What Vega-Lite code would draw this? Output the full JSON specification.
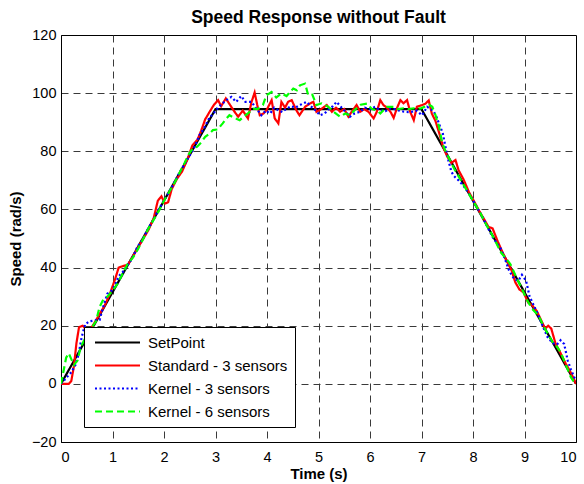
{
  "$schema": "https://vega.github.io/schema/vega-lite/v6.json",
  "width": 515,
  "height": 407,
  "autosize": {"type": "none"},
  "padding": {"left": 61, "top": 35, "right": 8, "bottom": 42},
  "background": "white",
  "title": {
    "text": "Speed Response without Fault",
    "font": "Liberation Sans",
    "fontSize": 17.5,
    "fontWeight": "bold",
    "color": "black",
    "frame": "group",
    "anchor": "middle",
    "offset": 1
  },
  "data": {
    "values": [
      {"s": "SetPoint", "t": 0, "v": 0},
      {"s": "SetPoint", "t": 3, "v": 94.5},
      {"s": "SetPoint", "t": 7, "v": 94.5},
      {"s": "SetPoint", "t": 10, "v": 0},

      {"s": "Standard - 3 sensors", "t": 0, "v": 0},
      {"s": "Standard - 3 sensors", "t": 0.15, "v": 0},
      {"s": "Standard - 3 sensors", "t": 0.2, "v": 1},
      {"s": "Standard - 3 sensors", "t": 0.25, "v": 6},
      {"s": "Standard - 3 sensors", "t": 0.3, "v": 14},
      {"s": "Standard - 3 sensors", "t": 0.35, "v": 19.5},
      {"s": "Standard - 3 sensors", "t": 0.42, "v": 20},
      {"s": "Standard - 3 sensors", "t": 0.5, "v": 18.5},
      {"s": "Standard - 3 sensors", "t": 0.58, "v": 19},
      {"s": "Standard - 3 sensors", "t": 0.65, "v": 21},
      {"s": "Standard - 3 sensors", "t": 0.75, "v": 24},
      {"s": "Standard - 3 sensors", "t": 0.85, "v": 27},
      {"s": "Standard - 3 sensors", "t": 0.95, "v": 31},
      {"s": "Standard - 3 sensors", "t": 1.05, "v": 36},
      {"s": "Standard - 3 sensors", "t": 1.12, "v": 40},
      {"s": "Standard - 3 sensors", "t": 1.2, "v": 40.5},
      {"s": "Standard - 3 sensors", "t": 1.3, "v": 41},
      {"s": "Standard - 3 sensors", "t": 1.4, "v": 44},
      {"s": "Standard - 3 sensors", "t": 1.5, "v": 47},
      {"s": "Standard - 3 sensors", "t": 1.6, "v": 50},
      {"s": "Standard - 3 sensors", "t": 1.7, "v": 53},
      {"s": "Standard - 3 sensors", "t": 1.8, "v": 57},
      {"s": "Standard - 3 sensors", "t": 1.88, "v": 63},
      {"s": "Standard - 3 sensors", "t": 1.95, "v": 64.5},
      {"s": "Standard - 3 sensors", "t": 2.02, "v": 62},
      {"s": "Standard - 3 sensors", "t": 2.08, "v": 62.5},
      {"s": "Standard - 3 sensors", "t": 2.15, "v": 67},
      {"s": "Standard - 3 sensors", "t": 2.25, "v": 70.5},
      {"s": "Standard - 3 sensors", "t": 2.35, "v": 73},
      {"s": "Standard - 3 sensors", "t": 2.45, "v": 77},
      {"s": "Standard - 3 sensors", "t": 2.55, "v": 82},
      {"s": "Standard - 3 sensors", "t": 2.65, "v": 84},
      {"s": "Standard - 3 sensors", "t": 2.72, "v": 87},
      {"s": "Standard - 3 sensors", "t": 2.8, "v": 91},
      {"s": "Standard - 3 sensors", "t": 2.9, "v": 94},
      {"s": "Standard - 3 sensors", "t": 2.97, "v": 96},
      {"s": "Standard - 3 sensors", "t": 3.05, "v": 97.6},
      {"s": "Standard - 3 sensors", "t": 3.11, "v": 95.5},
      {"s": "Standard - 3 sensors", "t": 3.2, "v": 98.2},
      {"s": "Standard - 3 sensors", "t": 3.28, "v": 96},
      {"s": "Standard - 3 sensors", "t": 3.37, "v": 93.6},
      {"s": "Standard - 3 sensors", "t": 3.44, "v": 91.9},
      {"s": "Standard - 3 sensors", "t": 3.53, "v": 94},
      {"s": "Standard - 3 sensors", "t": 3.63, "v": 91.3},
      {"s": "Standard - 3 sensors", "t": 3.7, "v": 97},
      {"s": "Standard - 3 sensors", "t": 3.76, "v": 100.2},
      {"s": "Standard - 3 sensors", "t": 3.81, "v": 96},
      {"s": "Standard - 3 sensors", "t": 3.86, "v": 92.4},
      {"s": "Standard - 3 sensors", "t": 3.93, "v": 93},
      {"s": "Standard - 3 sensors", "t": 3.99, "v": 94.1},
      {"s": "Standard - 3 sensors", "t": 4.09, "v": 97.6},
      {"s": "Standard - 3 sensors", "t": 4.15, "v": 91.3},
      {"s": "Standard - 3 sensors", "t": 4.22, "v": 89.6},
      {"s": "Standard - 3 sensors", "t": 4.28, "v": 97},
      {"s": "Standard - 3 sensors", "t": 4.35, "v": 95},
      {"s": "Standard - 3 sensors", "t": 4.41, "v": 97},
      {"s": "Standard - 3 sensors", "t": 4.48, "v": 97.6},
      {"s": "Standard - 3 sensors", "t": 4.57, "v": 94.1},
      {"s": "Standard - 3 sensors", "t": 4.63, "v": 92.4},
      {"s": "Standard - 3 sensors", "t": 4.74, "v": 95.3},
      {"s": "Standard - 3 sensors", "t": 4.83, "v": 96.4},
      {"s": "Standard - 3 sensors", "t": 4.9, "v": 97},
      {"s": "Standard - 3 sensors", "t": 4.96, "v": 93.6},
      {"s": "Standard - 3 sensors", "t": 5.05, "v": 94.5},
      {"s": "Standard - 3 sensors", "t": 5.16, "v": 95.9},
      {"s": "Standard - 3 sensors", "t": 5.26, "v": 93.6},
      {"s": "Standard - 3 sensors", "t": 5.34, "v": 95},
      {"s": "Standard - 3 sensors", "t": 5.42, "v": 93.6},
      {"s": "Standard - 3 sensors", "t": 5.5, "v": 94.5},
      {"s": "Standard - 3 sensors", "t": 5.58, "v": 91.9},
      {"s": "Standard - 3 sensors", "t": 5.66, "v": 94},
      {"s": "Standard - 3 sensors", "t": 5.74, "v": 95.9},
      {"s": "Standard - 3 sensors", "t": 5.81, "v": 93.6},
      {"s": "Standard - 3 sensors", "t": 5.89, "v": 94.5},
      {"s": "Standard - 3 sensors", "t": 5.97, "v": 93.6},
      {"s": "Standard - 3 sensors", "t": 6.07, "v": 91.3},
      {"s": "Standard - 3 sensors", "t": 6.13, "v": 93.5},
      {"s": "Standard - 3 sensors", "t": 6.2, "v": 97.6},
      {"s": "Standard - 3 sensors", "t": 6.26, "v": 95.9},
      {"s": "Standard - 3 sensors", "t": 6.33, "v": 95},
      {"s": "Standard - 3 sensors", "t": 6.4, "v": 93.5},
      {"s": "Standard - 3 sensors", "t": 6.46, "v": 91.5},
      {"s": "Standard - 3 sensors", "t": 6.52, "v": 94.7},
      {"s": "Standard - 3 sensors", "t": 6.59, "v": 97.6},
      {"s": "Standard - 3 sensors", "t": 6.65, "v": 96.5},
      {"s": "Standard - 3 sensors", "t": 6.72, "v": 97.6},
      {"s": "Standard - 3 sensors", "t": 6.78, "v": 93.6},
      {"s": "Standard - 3 sensors", "t": 6.85, "v": 90.7},
      {"s": "Standard - 3 sensors", "t": 6.91, "v": 95.3},
      {"s": "Standard - 3 sensors", "t": 7.01, "v": 95.9},
      {"s": "Standard - 3 sensors", "t": 7.08, "v": 96.4},
      {"s": "Standard - 3 sensors", "t": 7.14, "v": 97.5},
      {"s": "Standard - 3 sensors", "t": 7.2, "v": 93},
      {"s": "Standard - 3 sensors", "t": 7.27, "v": 90.5},
      {"s": "Standard - 3 sensors", "t": 7.34, "v": 86.5},
      {"s": "Standard - 3 sensors", "t": 7.42, "v": 81.5},
      {"s": "Standard - 3 sensors", "t": 7.5, "v": 78.2},
      {"s": "Standard - 3 sensors", "t": 7.58, "v": 76},
      {"s": "Standard - 3 sensors", "t": 7.66, "v": 77},
      {"s": "Standard - 3 sensors", "t": 7.72, "v": 73.5},
      {"s": "Standard - 3 sensors", "t": 7.82, "v": 70.2},
      {"s": "Standard - 3 sensors", "t": 7.92, "v": 66},
      {"s": "Standard - 3 sensors", "t": 8.02, "v": 62.8},
      {"s": "Standard - 3 sensors", "t": 8.12, "v": 59.5},
      {"s": "Standard - 3 sensors", "t": 8.22, "v": 56.5},
      {"s": "Standard - 3 sensors", "t": 8.3, "v": 54},
      {"s": "Standard - 3 sensors", "t": 8.38, "v": 53.5},
      {"s": "Standard - 3 sensors", "t": 8.48, "v": 49},
      {"s": "Standard - 3 sensors", "t": 8.58, "v": 45},
      {"s": "Standard - 3 sensors", "t": 8.68, "v": 41.5},
      {"s": "Standard - 3 sensors", "t": 8.75, "v": 39},
      {"s": "Standard - 3 sensors", "t": 8.82, "v": 35},
      {"s": "Standard - 3 sensors", "t": 8.9, "v": 32.5},
      {"s": "Standard - 3 sensors", "t": 8.98, "v": 31.5},
      {"s": "Standard - 3 sensors", "t": 9.07, "v": 28},
      {"s": "Standard - 3 sensors", "t": 9.15, "v": 27},
      {"s": "Standard - 3 sensors", "t": 9.24, "v": 25},
      {"s": "Standard - 3 sensors", "t": 9.32, "v": 22},
      {"s": "Standard - 3 sensors", "t": 9.4, "v": 19},
      {"s": "Standard - 3 sensors", "t": 9.46, "v": 20},
      {"s": "Standard - 3 sensors", "t": 9.52, "v": 19},
      {"s": "Standard - 3 sensors", "t": 9.6, "v": 14},
      {"s": "Standard - 3 sensors", "t": 9.71, "v": 10.2},
      {"s": "Standard - 3 sensors", "t": 9.8, "v": 7},
      {"s": "Standard - 3 sensors", "t": 9.88, "v": 4.5},
      {"s": "Standard - 3 sensors", "t": 9.95, "v": 2},
      {"s": "Standard - 3 sensors", "t": 10, "v": 0},

      {"s": "Kernel - 3 sensors", "t": 0, "v": 0},
      {"s": "Kernel - 3 sensors", "t": 0.1, "v": 2},
      {"s": "Kernel - 3 sensors", "t": 0.2, "v": 4},
      {"s": "Kernel - 3 sensors", "t": 0.28, "v": 6.5},
      {"s": "Kernel - 3 sensors", "t": 0.34, "v": 10},
      {"s": "Kernel - 3 sensors", "t": 0.4, "v": 16},
      {"s": "Kernel - 3 sensors", "t": 0.47, "v": 20.5},
      {"s": "Kernel - 3 sensors", "t": 0.55, "v": 21.5},
      {"s": "Kernel - 3 sensors", "t": 0.65, "v": 21.8},
      {"s": "Kernel - 3 sensors", "t": 0.75, "v": 22},
      {"s": "Kernel - 3 sensors", "t": 0.82, "v": 26.5},
      {"s": "Kernel - 3 sensors", "t": 0.9, "v": 31},
      {"s": "Kernel - 3 sensors", "t": 0.98, "v": 32},
      {"s": "Kernel - 3 sensors", "t": 1.05, "v": 34},
      {"s": "Kernel - 3 sensors", "t": 1.12, "v": 37},
      {"s": "Kernel - 3 sensors", "t": 1.2, "v": 38.5},
      {"s": "Kernel - 3 sensors", "t": 1.3, "v": 41},
      {"s": "Kernel - 3 sensors", "t": 1.38, "v": 43},
      {"s": "Kernel - 3 sensors", "t": 1.48, "v": 47},
      {"s": "Kernel - 3 sensors", "t": 1.58, "v": 49.5},
      {"s": "Kernel - 3 sensors", "t": 1.68, "v": 53},
      {"s": "Kernel - 3 sensors", "t": 1.78, "v": 56},
      {"s": "Kernel - 3 sensors", "t": 1.88, "v": 59.5},
      {"s": "Kernel - 3 sensors", "t": 1.98, "v": 62.5},
      {"s": "Kernel - 3 sensors", "t": 2.08, "v": 65.5},
      {"s": "Kernel - 3 sensors", "t": 2.18, "v": 68.5},
      {"s": "Kernel - 3 sensors", "t": 2.28, "v": 72},
      {"s": "Kernel - 3 sensors", "t": 2.38, "v": 75},
      {"s": "Kernel - 3 sensors", "t": 2.48, "v": 78},
      {"s": "Kernel - 3 sensors", "t": 2.58, "v": 81},
      {"s": "Kernel - 3 sensors", "t": 2.69, "v": 85.6},
      {"s": "Kernel - 3 sensors", "t": 2.78, "v": 88},
      {"s": "Kernel - 3 sensors", "t": 2.88, "v": 91.5},
      {"s": "Kernel - 3 sensors", "t": 2.96, "v": 93},
      {"s": "Kernel - 3 sensors", "t": 3.05, "v": 95},
      {"s": "Kernel - 3 sensors", "t": 3.14, "v": 96.5},
      {"s": "Kernel - 3 sensors", "t": 3.21, "v": 97.6},
      {"s": "Kernel - 3 sensors", "t": 3.31, "v": 98.7},
      {"s": "Kernel - 3 sensors", "t": 3.4, "v": 97},
      {"s": "Kernel - 3 sensors", "t": 3.5, "v": 99},
      {"s": "Kernel - 3 sensors", "t": 3.58, "v": 97},
      {"s": "Kernel - 3 sensors", "t": 3.7, "v": 97},
      {"s": "Kernel - 3 sensors", "t": 3.78, "v": 95},
      {"s": "Kernel - 3 sensors", "t": 3.89, "v": 92.4},
      {"s": "Kernel - 3 sensors", "t": 3.98, "v": 94},
      {"s": "Kernel - 3 sensors", "t": 4.06, "v": 93},
      {"s": "Kernel - 3 sensors", "t": 4.14, "v": 95},
      {"s": "Kernel - 3 sensors", "t": 4.22, "v": 94.1},
      {"s": "Kernel - 3 sensors", "t": 4.3, "v": 93.5},
      {"s": "Kernel - 3 sensors", "t": 4.38, "v": 94.7},
      {"s": "Kernel - 3 sensors", "t": 4.47, "v": 95.5},
      {"s": "Kernel - 3 sensors", "t": 4.55, "v": 95},
      {"s": "Kernel - 3 sensors", "t": 4.65, "v": 96},
      {"s": "Kernel - 3 sensors", "t": 4.77, "v": 97},
      {"s": "Kernel - 3 sensors", "t": 4.85, "v": 95.5},
      {"s": "Kernel - 3 sensors", "t": 4.95, "v": 94},
      {"s": "Kernel - 3 sensors", "t": 5.03, "v": 92.4},
      {"s": "Kernel - 3 sensors", "t": 5.12, "v": 93},
      {"s": "Kernel - 3 sensors", "t": 5.2, "v": 94.5},
      {"s": "Kernel - 3 sensors", "t": 5.28, "v": 95.5},
      {"s": "Kernel - 3 sensors", "t": 5.35, "v": 97},
      {"s": "Kernel - 3 sensors", "t": 5.45, "v": 95},
      {"s": "Kernel - 3 sensors", "t": 5.53, "v": 93.5},
      {"s": "Kernel - 3 sensors", "t": 5.61, "v": 91.9},
      {"s": "Kernel - 3 sensors", "t": 5.7, "v": 93},
      {"s": "Kernel - 3 sensors", "t": 5.81, "v": 93.6},
      {"s": "Kernel - 3 sensors", "t": 5.9, "v": 95},
      {"s": "Kernel - 3 sensors", "t": 6.0, "v": 94.5},
      {"s": "Kernel - 3 sensors", "t": 6.1, "v": 95.3},
      {"s": "Kernel - 3 sensors", "t": 6.2, "v": 94},
      {"s": "Kernel - 3 sensors", "t": 6.3, "v": 93.8},
      {"s": "Kernel - 3 sensors", "t": 6.39, "v": 94.7},
      {"s": "Kernel - 3 sensors", "t": 6.48, "v": 94.5},
      {"s": "Kernel - 3 sensors", "t": 6.57, "v": 94},
      {"s": "Kernel - 3 sensors", "t": 6.66, "v": 93.6},
      {"s": "Kernel - 3 sensors", "t": 6.74, "v": 93.5},
      {"s": "Kernel - 3 sensors", "t": 6.82, "v": 93.6},
      {"s": "Kernel - 3 sensors", "t": 6.9, "v": 94},
      {"s": "Kernel - 3 sensors", "t": 7.01, "v": 92.4},
      {"s": "Kernel - 3 sensors", "t": 7.11, "v": 95.3},
      {"s": "Kernel - 3 sensors", "t": 7.18, "v": 94.5},
      {"s": "Kernel - 3 sensors", "t": 7.24, "v": 93.6},
      {"s": "Kernel - 3 sensors", "t": 7.3, "v": 91.5},
      {"s": "Kernel - 3 sensors", "t": 7.36, "v": 88.5},
      {"s": "Kernel - 3 sensors", "t": 7.41, "v": 86.5},
      {"s": "Kernel - 3 sensors", "t": 7.46, "v": 82},
      {"s": "Kernel - 3 sensors", "t": 7.52, "v": 77},
      {"s": "Kernel - 3 sensors", "t": 7.58, "v": 73},
      {"s": "Kernel - 3 sensors", "t": 7.63, "v": 71.5},
      {"s": "Kernel - 3 sensors", "t": 7.72, "v": 70},
      {"s": "Kernel - 3 sensors", "t": 7.82, "v": 68},
      {"s": "Kernel - 3 sensors", "t": 7.92, "v": 65.5},
      {"s": "Kernel - 3 sensors", "t": 8.02, "v": 62.5},
      {"s": "Kernel - 3 sensors", "t": 8.1, "v": 60},
      {"s": "Kernel - 3 sensors", "t": 8.18, "v": 57.6},
      {"s": "Kernel - 3 sensors", "t": 8.28, "v": 54},
      {"s": "Kernel - 3 sensors", "t": 8.38, "v": 50.5},
      {"s": "Kernel - 3 sensors", "t": 8.46, "v": 48.5},
      {"s": "Kernel - 3 sensors", "t": 8.54, "v": 46.5},
      {"s": "Kernel - 3 sensors", "t": 8.62, "v": 43},
      {"s": "Kernel - 3 sensors", "t": 8.7, "v": 39},
      {"s": "Kernel - 3 sensors", "t": 8.8, "v": 36},
      {"s": "Kernel - 3 sensors", "t": 8.88, "v": 35.5},
      {"s": "Kernel - 3 sensors", "t": 8.95, "v": 37.5},
      {"s": "Kernel - 3 sensors", "t": 9.03, "v": 35.5},
      {"s": "Kernel - 3 sensors", "t": 9.1, "v": 30},
      {"s": "Kernel - 3 sensors", "t": 9.18, "v": 27},
      {"s": "Kernel - 3 sensors", "t": 9.26, "v": 24},
      {"s": "Kernel - 3 sensors", "t": 9.35, "v": 20},
      {"s": "Kernel - 3 sensors", "t": 9.45, "v": 16},
      {"s": "Kernel - 3 sensors", "t": 9.55, "v": 14},
      {"s": "Kernel - 3 sensors", "t": 9.63, "v": 13.5},
      {"s": "Kernel - 3 sensors", "t": 9.7, "v": 15},
      {"s": "Kernel - 3 sensors", "t": 9.77, "v": 13.7},
      {"s": "Kernel - 3 sensors", "t": 9.84, "v": 8},
      {"s": "Kernel - 3 sensors", "t": 9.9, "v": 5},
      {"s": "Kernel - 3 sensors", "t": 9.96, "v": 2.5},
      {"s": "Kernel - 3 sensors", "t": 10, "v": 1},

      {"s": "Kernel - 6 sensors", "t": 0, "v": 0},
      {"s": "Kernel - 6 sensors", "t": 0.05, "v": 4.5},
      {"s": "Kernel - 6 sensors", "t": 0.1, "v": 9},
      {"s": "Kernel - 6 sensors", "t": 0.15, "v": 10.5},
      {"s": "Kernel - 6 sensors", "t": 0.2, "v": 8.5},
      {"s": "Kernel - 6 sensors", "t": 0.25, "v": 6.5},
      {"s": "Kernel - 6 sensors", "t": 0.32, "v": 8},
      {"s": "Kernel - 6 sensors", "t": 0.38, "v": 12.5},
      {"s": "Kernel - 6 sensors", "t": 0.45, "v": 15},
      {"s": "Kernel - 6 sensors", "t": 0.52, "v": 17.5},
      {"s": "Kernel - 6 sensors", "t": 0.6, "v": 19.5},
      {"s": "Kernel - 6 sensors", "t": 0.68, "v": 21.5},
      {"s": "Kernel - 6 sensors", "t": 0.75, "v": 26.5},
      {"s": "Kernel - 6 sensors", "t": 0.82, "v": 29},
      {"s": "Kernel - 6 sensors", "t": 0.9, "v": 30},
      {"s": "Kernel - 6 sensors", "t": 1.0, "v": 32},
      {"s": "Kernel - 6 sensors", "t": 1.1, "v": 34.5},
      {"s": "Kernel - 6 sensors", "t": 1.2, "v": 38},
      {"s": "Kernel - 6 sensors", "t": 1.3, "v": 41.5},
      {"s": "Kernel - 6 sensors", "t": 1.4, "v": 43.5},
      {"s": "Kernel - 6 sensors", "t": 1.5, "v": 46.5},
      {"s": "Kernel - 6 sensors", "t": 1.6, "v": 50},
      {"s": "Kernel - 6 sensors", "t": 1.7, "v": 53.5},
      {"s": "Kernel - 6 sensors", "t": 1.8, "v": 56.5},
      {"s": "Kernel - 6 sensors", "t": 1.9, "v": 59.5},
      {"s": "Kernel - 6 sensors", "t": 2.0, "v": 63},
      {"s": "Kernel - 6 sensors", "t": 2.1, "v": 66},
      {"s": "Kernel - 6 sensors", "t": 2.2, "v": 69},
      {"s": "Kernel - 6 sensors", "t": 2.3, "v": 72.5},
      {"s": "Kernel - 6 sensors", "t": 2.4, "v": 76},
      {"s": "Kernel - 6 sensors", "t": 2.48, "v": 79},
      {"s": "Kernel - 6 sensors", "t": 2.56, "v": 81},
      {"s": "Kernel - 6 sensors", "t": 2.64, "v": 81.5},
      {"s": "Kernel - 6 sensors", "t": 2.72, "v": 83},
      {"s": "Kernel - 6 sensors", "t": 2.8, "v": 85},
      {"s": "Kernel - 6 sensors", "t": 2.88, "v": 86},
      {"s": "Kernel - 6 sensors", "t": 2.95, "v": 87.3},
      {"s": "Kernel - 6 sensors", "t": 3.04, "v": 87.5},
      {"s": "Kernel - 6 sensors", "t": 3.14, "v": 89.6},
      {"s": "Kernel - 6 sensors", "t": 3.2, "v": 91},
      {"s": "Kernel - 6 sensors", "t": 3.27, "v": 92.4},
      {"s": "Kernel - 6 sensors", "t": 3.36, "v": 91.5},
      {"s": "Kernel - 6 sensors", "t": 3.47, "v": 90.7},
      {"s": "Kernel - 6 sensors", "t": 3.55, "v": 92},
      {"s": "Kernel - 6 sensors", "t": 3.63, "v": 93},
      {"s": "Kernel - 6 sensors", "t": 3.73, "v": 94.7},
      {"s": "Kernel - 6 sensors", "t": 3.82, "v": 94.5},
      {"s": "Kernel - 6 sensors", "t": 3.92, "v": 95.9},
      {"s": "Kernel - 6 sensors", "t": 3.99, "v": 99.3},
      {"s": "Kernel - 6 sensors", "t": 4.09, "v": 100.4},
      {"s": "Kernel - 6 sensors", "t": 4.18, "v": 98.5},
      {"s": "Kernel - 6 sensors", "t": 4.28, "v": 99.9},
      {"s": "Kernel - 6 sensors", "t": 4.38, "v": 99},
      {"s": "Kernel - 6 sensors", "t": 4.51, "v": 101.6},
      {"s": "Kernel - 6 sensors", "t": 4.58, "v": 101},
      {"s": "Kernel - 6 sensors", "t": 4.64, "v": 102.7},
      {"s": "Kernel - 6 sensors", "t": 4.74, "v": 103.3},
      {"s": "Kernel - 6 sensors", "t": 4.8, "v": 99.3},
      {"s": "Kernel - 6 sensors", "t": 4.88, "v": 99.5},
      {"s": "Kernel - 6 sensors", "t": 4.96, "v": 95.9},
      {"s": "Kernel - 6 sensors", "t": 5.06, "v": 96.5},
      {"s": "Kernel - 6 sensors", "t": 5.19, "v": 95.3},
      {"s": "Kernel - 6 sensors", "t": 5.3, "v": 93.5},
      {"s": "Kernel - 6 sensors", "t": 5.42, "v": 91.9},
      {"s": "Kernel - 6 sensors", "t": 5.52, "v": 93},
      {"s": "Kernel - 6 sensors", "t": 5.61, "v": 92.4},
      {"s": "Kernel - 6 sensors", "t": 5.72, "v": 94.5},
      {"s": "Kernel - 6 sensors", "t": 5.82, "v": 96},
      {"s": "Kernel - 6 sensors", "t": 5.94, "v": 96.4},
      {"s": "Kernel - 6 sensors", "t": 6.04, "v": 94.5},
      {"s": "Kernel - 6 sensors", "t": 6.14, "v": 94},
      {"s": "Kernel - 6 sensors", "t": 6.2, "v": 93},
      {"s": "Kernel - 6 sensors", "t": 6.33, "v": 95.3},
      {"s": "Kernel - 6 sensors", "t": 6.46, "v": 95.3},
      {"s": "Kernel - 6 sensors", "t": 6.55, "v": 94.5},
      {"s": "Kernel - 6 sensors", "t": 6.65, "v": 94.8},
      {"s": "Kernel - 6 sensors", "t": 6.75, "v": 94.5},
      {"s": "Kernel - 6 sensors", "t": 6.85, "v": 94.8},
      {"s": "Kernel - 6 sensors", "t": 6.98, "v": 94.7},
      {"s": "Kernel - 6 sensors", "t": 7.08, "v": 95.5},
      {"s": "Kernel - 6 sensors", "t": 7.15, "v": 96},
      {"s": "Kernel - 6 sensors", "t": 7.21, "v": 95.3},
      {"s": "Kernel - 6 sensors", "t": 7.27, "v": 92.5},
      {"s": "Kernel - 6 sensors", "t": 7.34, "v": 88.5},
      {"s": "Kernel - 6 sensors", "t": 7.4, "v": 83},
      {"s": "Kernel - 6 sensors", "t": 7.47, "v": 79.9},
      {"s": "Kernel - 6 sensors", "t": 7.55, "v": 77},
      {"s": "Kernel - 6 sensors", "t": 7.65, "v": 73.5},
      {"s": "Kernel - 6 sensors", "t": 7.75, "v": 70.5},
      {"s": "Kernel - 6 sensors", "t": 7.85, "v": 67.5},
      {"s": "Kernel - 6 sensors", "t": 7.95, "v": 64.5},
      {"s": "Kernel - 6 sensors", "t": 8.05, "v": 61.5},
      {"s": "Kernel - 6 sensors", "t": 8.15, "v": 58.5},
      {"s": "Kernel - 6 sensors", "t": 8.25, "v": 55},
      {"s": "Kernel - 6 sensors", "t": 8.35, "v": 52},
      {"s": "Kernel - 6 sensors", "t": 8.45, "v": 48.5},
      {"s": "Kernel - 6 sensors", "t": 8.55, "v": 45},
      {"s": "Kernel - 6 sensors", "t": 8.65, "v": 43},
      {"s": "Kernel - 6 sensors", "t": 8.73, "v": 41},
      {"s": "Kernel - 6 sensors", "t": 8.82, "v": 37.5},
      {"s": "Kernel - 6 sensors", "t": 8.9, "v": 34.5},
      {"s": "Kernel - 6 sensors", "t": 8.98, "v": 31.5},
      {"s": "Kernel - 6 sensors", "t": 9.06, "v": 28.5},
      {"s": "Kernel - 6 sensors", "t": 9.14, "v": 26},
      {"s": "Kernel - 6 sensors", "t": 9.22, "v": 24.5},
      {"s": "Kernel - 6 sensors", "t": 9.3, "v": 22.5},
      {"s": "Kernel - 6 sensors", "t": 9.38, "v": 19.5},
      {"s": "Kernel - 6 sensors", "t": 9.46, "v": 17},
      {"s": "Kernel - 6 sensors", "t": 9.54, "v": 14.5},
      {"s": "Kernel - 6 sensors", "t": 9.62, "v": 13},
      {"s": "Kernel - 6 sensors", "t": 9.7, "v": 11},
      {"s": "Kernel - 6 sensors", "t": 9.78, "v": 7.5},
      {"s": "Kernel - 6 sensors", "t": 9.85, "v": 4.5},
      {"s": "Kernel - 6 sensors", "t": 9.9, "v": 2.3},
      {"s": "Kernel - 6 sensors", "t": 9.95, "v": 1},
      {"s": "Kernel - 6 sensors", "t": 10, "v": 0}
    ]
  },
  "mark": {"type": "line", "strokeWidth": 2.2, "clip": true},
  "encoding": {
    "x": {
      "field": "t",
      "type": "quantitative",
      "scale": {"domain": [0, 10], "nice": false, "zero": false},
      "axis": {
        "title": "Time (s)",
        "values": [0, 1, 2, 3, 4, 5, 6, 7, 8, 9, 10],
        "labelPadding": 8,
        "titlePadding": 3,
        "gridOpacity": {"condition": {"test": "datum.value == 0 || datum.value == 10", "value": 0}, "value": 1}
      }
    },
    "y": {
      "field": "v",
      "type": "quantitative",
      "scale": {"domain": [-20, 120], "nice": false, "zero": false},
      "axis": {
        "title": "Speed (rad/s)",
        "values": [-20, 0, 20, 40, 60, 80, 100, 120],
        "labelPadding": 5,
        "titlePadding": 8,
        "gridOpacity": {"condition": {"test": "datum.value == -20 || datum.value == 120", "value": 0}, "value": 1}
      }
    },
    "color": {
      "field": "s",
      "type": "nominal",
      "sort": null,
      "scale": {
        "domain": ["SetPoint", "Standard - 3 sensors", "Kernel - 3 sensors", "Kernel - 6 sensors"],
        "range": ["#000000", "#ff0000", "#0000ff", "#00ff00"]
      },
      "legend": {"title": null}
    },
    "strokeDash": {
      "field": "s",
      "type": "nominal",
      "sort": null,
      "scale": {
        "domain": ["SetPoint", "Standard - 3 sensors", "Kernel - 3 sensors", "Kernel - 6 sensors"],
        "range": [[1, 0], [1, 0], [2, 2.5], [7, 4]]
      },
      "legend": {"title": null}
    }
  },
  "config": {
    "view": {"stroke": "black", "strokeWidth": 1},
    "axis": {
      "domainColor": "black",
      "domainWidth": 1,
      "tickColor": "black",
      "tickSize": 0,
      "labelColor": "black",
      "labelFont": "Liberation Sans",
      "labelFontSize": 14.5,
      "titleFont": "Liberation Sans",
      "titleFontSize": 15,
      "titleFontWeight": "bold",
      "titleColor": "black",
      "gridColor": "#3a3a3a",
      "gridDash": [7, 5],
      "gridWidth": 1
    },
    "legend": {
      "orient": "none",
      "legendX": 23,
      "legendY": 292,
      "direction": "vertical",
      "fillColor": "white",
      "strokeColor": "black",
      "padding": 7,
      "symbolType": "M-1,0H5",
      "symbolSize": 225,
      "symbolStrokeWidth": 2,
      "symbolOpacity": 1,
      "symbolOffset": 3,
      "labelFont": "Liberation Sans",
      "labelFontSize": 15,
      "labelColor": "black",
      "labelOffset": 37,
      "rowPadding": 6,
      "labelLimit": 300
    }
  }
}
